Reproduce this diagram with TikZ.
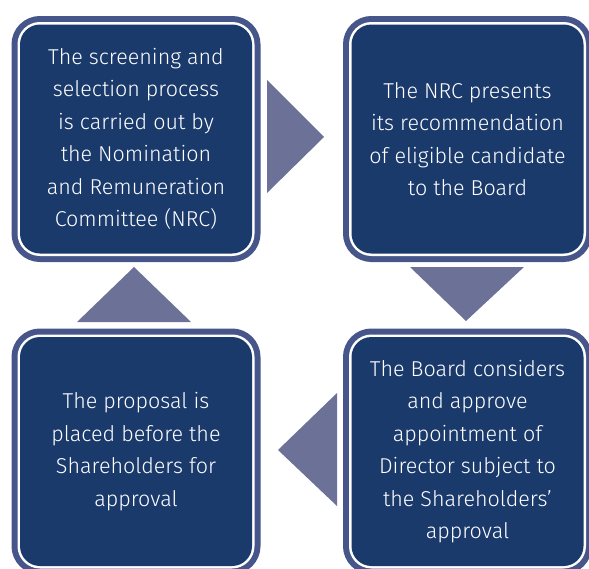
\documentclass[tikz,border=0pt]{standalone}
\usepackage{fontspec}
\setmainfont{Fira Sans Light}
\usepackage{tikz}
\usetikzlibrary{positioning}
\usepackage{xcolor}
\definecolor{cardblue}{HTML}{1B3A6C}
\definecolor{cardedge}{HTML}{46568A}
\definecolor{flowgray}{HTML}{6C7198}

\begin{document}
\begin{tikzpicture}[x=1pt, y=-1pt,
  stepcard/.style={rectangle, rounded corners=20pt, minimum width=232pt, minimum height=229pt, inner sep=0pt,
    preaction={draw=cardedge, line width=17pt},
    draw=white, line width=5pt,
    postaction={fill=cardblue},
    text=white, align=center, font=\fontsize{21.5}{32.5}\selectfont},
  flowarrow/.style={fill=flowgray}]
\clip (0,0) rectangle (589,568);
\node[stepcard] (scr) at (136,139) {The screening and\\selection process\\is carried out by\\the Nomination\\and Remuneration\\Committee (NRC)};
\node[stepcard] (rec) at (467.5,139) {The NRC presents\\its recommendation\\of eligible candidate\\to the Board};
\node[stepcard] (brd) at (467.5,451.5) {The Board considers\\and approve\\appointment of\\Director subject to\\the Shareholders'\\approval};
\node[stepcard] (shr) at (136,451.5) {The proposal is\\placed before the\\Shareholders for\\approval};

\fill[flowarrow] (267,80) -- (324,137) -- (267,193) -- cycle;
\fill[flowarrow] (410,267) -- (524,267) -- (466,321) -- cycle;
\fill[flowarrow] (337,393) -- (337,506) -- (278,450) -- cycle;
\fill[flowarrow] (77,322) -- (191,322) -- (134,267) -- cycle;
\end{tikzpicture}
\end{document}
